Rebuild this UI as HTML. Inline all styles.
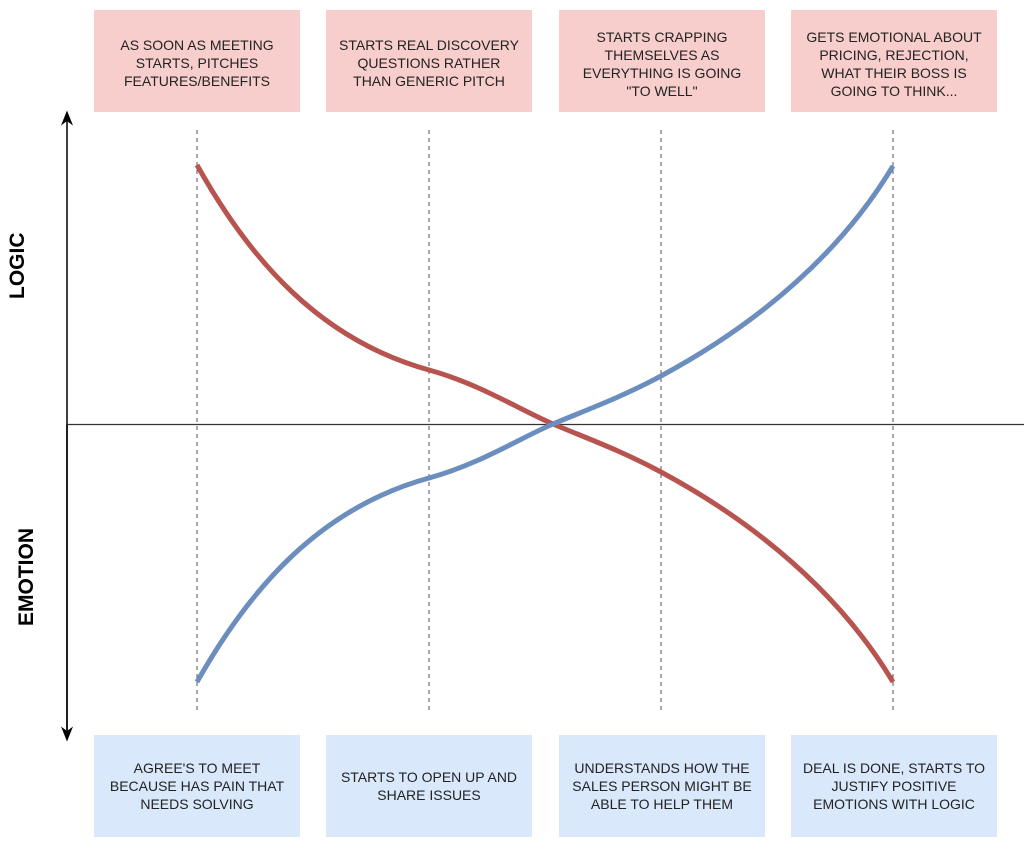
<!DOCTYPE html>
<html><head><style>
body{margin:0;width:1024px;height:857px;background:#fff;position:relative;overflow:hidden;font-family:"Liberation Sans",sans-serif}
.b{position:absolute;width:206px;height:102px;display:flex;align-items:flex-start;justify-content:center;text-align:center;font-size:14px;line-height:18px;color:#222;box-sizing:border-box;white-space:nowrap}
.t{top:10px;background:#f8cecc;padding-top:26px}
.u{top:735px;background:#dae8fc;align-items:center}
.l{position:absolute;font-weight:bold;font-size:21px;transform:rotate(-90deg);transform-origin:center;color:#000}
</style></head><body>
<svg width="1024" height="857" style="position:absolute;left:0;top:0">
<defs><marker id="a" markerWidth="10" markerHeight="10" refX="5" refY="5" orient="auto"><path d="M0,1 L10,5 L0,9 L3,5z" fill="#000"/></marker></defs>
<line x1="67" y1="730" x2="67" y2="118" stroke="#000" stroke-width="1.5" marker-end="url(#a)"/>
<line x1="67" y1="424" x2="67" y2="734" stroke="#000" stroke-width="1.5" marker-end="url(#a)"/>
<line x1="67" y1="424.5" x2="1024" y2="424.5" stroke="#333" stroke-width="1.2"/>
<g stroke="#555" stroke-dasharray="4,4" stroke-width="1">
<line x1="197" y1="130" x2="197" y2="710"/><line x1="429" y1="130" x2="429" y2="710"/><line x1="661" y1="130" x2="661" y2="710"/><line x1="893" y1="130" x2="893" y2="710"/></g>
<path d="M197,165 C250,260 320,340 429,370 C480,384 520,410 553,424 C586,438 620,450 661,472 C700,493 820,560 893,682" fill="none" stroke="#b85450" stroke-width="5"/>
<path d="M197,682 C250,588 320,508 429,478 C480,464 520,438 553,424 C586,410 620,398 661,376 C700,355 820,288 893,166" fill="none" stroke="#6c8ebf" stroke-width="5"/>
</svg>
<div class="b t" style="left:94px">AS SOON AS MEETING<br>STARTS, PITCHES<br>FEATURES/BENEFITS</div>
<div class="b t" style="left:326px">STARTS REAL DISCOVERY<br>QUESTIONS RATHER<br>THAN GENERIC PITCH</div>
<div class="b t" style="left:559px;padding-top:18px">STARTS CRAPPING<br>THEMSELVES AS<br>EVERYTHING IS GOING<br>"TO WELL"</div>
<div class="b t" style="left:791px;padding-top:18px">GETS EMOTIONAL ABOUT<br>PRICING, REJECTION,<br>WHAT THEIR BOSS IS<br>GOING TO THINK...</div>
<div class="b u" style="left:94px">AGREE'S TO MEET<br>BECAUSE HAS PAIN THAT<br>NEEDS SOLVING</div>
<div class="b u" style="left:326px">STARTS TO OPEN UP AND<br>SHARE ISSUES</div>
<div class="b u" style="left:559px">UNDERSTANDS HOW THE<br>SALES PERSON MIGHT BE<br>ABLE TO HELP THEM</div>
<div class="b u" style="left:791px">DEAL IS DONE, STARTS TO<br>JUSTIFY POSITIVE<br>EMOTIONS WITH LOGIC</div>
<div class="l" style="left:-12px;top:257px;width:60px;text-align:center">LOGIC</div>
<div class="l" style="left:-23px;top:565px;width:100px;text-align:center">EMOTION</div>
</body></html>
